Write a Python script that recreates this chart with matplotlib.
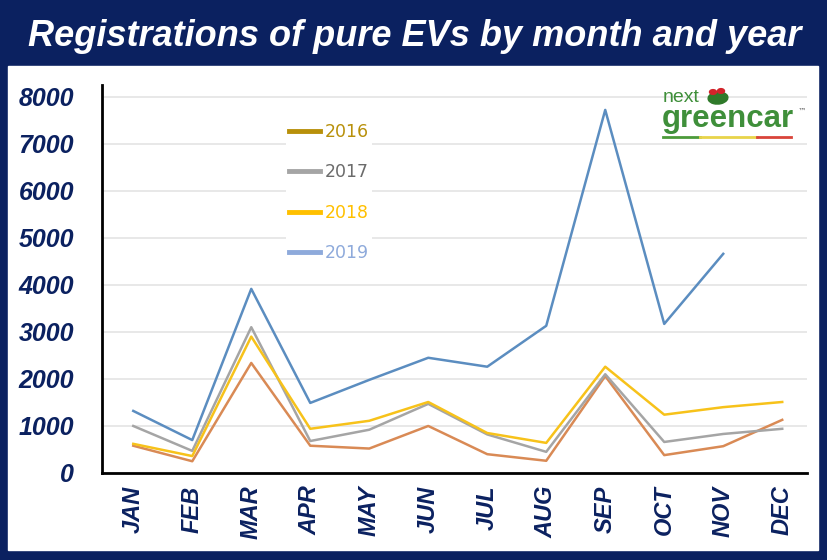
import matplotlib.pyplot as plt
from matplotlib.lines import Line2D
from matplotlib.patches import Rectangle, Circle, Ellipse

months = ['JAN', 'FEB', 'MAR', 'APR', 'MAY', 'JUN',
          'JUL', 'AUG', 'SEP', 'OCT', 'NOV', 'DEC']
ev_2016 = [580, 250, 2340, 580, 520, 1000, 400, 260, 2060, 380, 570, 1130]
ev_2017 = [1000, 470, 3100, 680, 920, 1470, 820, 450, 2100, 660, 830, 940]
ev_2018 = [620, 360, 2900, 940, 1110, 1510, 850, 640, 2260, 1240, 1400, 1510]
ev_2019 = [1320, 700, 3915, 1490, 1980, 2450, 2260, 3130, 7720, 3170, 4660]
years = ['2016', '2017', '2018', '2019']
y_ticks = [0, 1000, 2000, 3000, 4000, 5000, 6000, 7000, 8000]

navy = '#0b2160'
line_colors = ['#d98a55', '#a5a5a5', '#f7c21a', '#5b8dc0']
legend_colors = ['#b8900a', '#a5a5a5', '#ffc000', '#8eaadb']
legend_text = ['#b8900a', '#6b6b6b', '#ffc000', '#8eaadb']

fig = plt.figure(figsize=(8.27, 5.6), dpi=100)
fig.patch.set_facecolor(navy)
W, H = 827, 560

# white panel under the title band
fig.patches.append(Rectangle((8 / W, 10 / H), 810 / W, 484 / H,
                             transform=fig.transFigure, color='white', zorder=0))

fig.text(0.502, 1 - 37 / H, 'Registrations of pure EVs by month and year',
         ha='center', va='center', color='white', fontsize=26,
         fontweight='bold', fontstyle='italic', family='Liberation Sans')

ax = fig.add_axes([102 / W, 87 / H, 705 / W, 388 / H])
ax.set_zorder(2)
ax.patch.set_alpha(0)
x = list(range(len(months)))
for vals, c in zip([ev_2016, ev_2017, ev_2018, ev_2019], line_colors):
    ax.plot(x[:len(vals)], vals, color=c, lw=1.8, zorder=3)

ax.set_xlim(-0.53, 11.42)
ax.set_ylim(0, 8250)
ax.set_yticks(y_ticks)
ax.set_xticks(x)
ax.set_xticklabels(months, rotation=90)
ax.grid(axis='y', color='#e4e4e4', lw=1.2, zorder=0)
ax.set_axisbelow(True)
for s in ['top', 'right']:
    ax.spines[s].set_visible(False)
for s in ['left', 'bottom']:
    ax.spines[s].set_linewidth(2)
    ax.spines[s].set_color('black')
ax.tick_params(axis='both', length=0)
ax.tick_params(axis='y', pad=20)
ax.tick_params(axis='x', pad=9)
for lab in ax.get_yticklabels():
    lab.set(fontsize=18, fontweight='bold', fontstyle='italic', color=navy,
            family='Liberation Sans')
for lab in ax.get_xticklabels():
    lab.set(fontsize=17, fontweight='bold', fontstyle='italic', color=navy,
            family='Liberation Sans')

handles = [Line2D([], [], color=c, lw=3.5) for c in legend_colors]
leg = ax.legend(handles, years, loc='upper left', bbox_to_anchor=(0.248, 0.934),
                frameon=True, facecolor='white', edgecolor='none', framealpha=1,
                fontsize=12.5, handlelength=1.8, handletextpad=0.25,
                labelspacing=1.3, borderpad=0.2)
for t, c in zip(leg.get_texts(), legend_text):
    t.set_color(c)

# logo
green = '#3f8f3a'
fig.text(663 / W, 1 - 97 / H, 'next', color=green, fontsize=14,
         va='center', ha='left', family='Liberation Sans')
fig.text(662 / W, 1 - 119 / H, 'greencar', color=green, fontsize=22.5,
         fontweight='bold', va='center', ha='left', family='Liberation Sans')
fig.text(798 / W, 1 - 111 / H, '™', color='#555555', fontsize=6,
         va='center', ha='left')
for x0, x1, c in [(663, 700, '#4c9a3a'), (700, 757, '#e8d44a'), (757, 791, '#d9443a')]:
    fig.add_artist(Line2D([x0 / W, x1 / W], [1 - 137 / H, 1 - 137 / H],
                          color=c, lw=2, transform=fig.transFigure))
fig.patches.append(Ellipse((718 / W, 1 - 98 / H), 20 / W, 12 / H, angle=20,
                           color='#2f7a2a', transform=fig.transFigure, zorder=5))
for cx, cy in [(713, 92), (721, 91)]:
    fig.patches.append(Circle((cx / W, 1 - cy / H), 3.5 / W, color='#d2232a',
                              transform=fig.transFigure, zorder=6))

fig.savefig('out.png', dpi=100, facecolor=navy)
